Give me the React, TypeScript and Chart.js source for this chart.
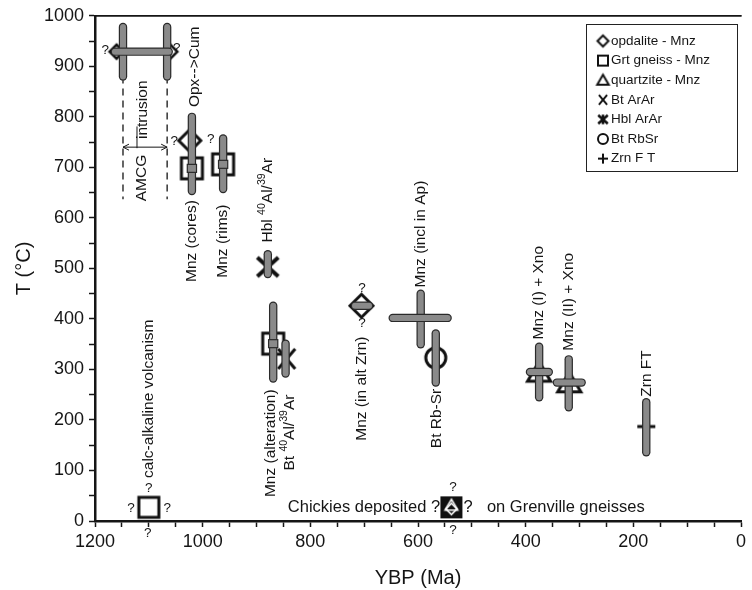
import React, { useEffect, useRef } from "react";
import { Chart, registerables } from "chart.js";

Chart.register(...registerables);

const FONT = "'Liberation Sans', Arial, Helvetica, sans-serif";

// ---------- axes ----------
const xRange = [0, 1200];
const xTickLabels = [1200, 1000, 800, 600, 400, 200, 0];
const yRange = [0, 1000];
const yTickLabels = [0, 100, 200, 300, 400, 500, 600, 700, 800, 900, 1000];
const minorStep = 50;
const xTitle = "YBP (Ma)";
const yTitle = "T (°C)";

// ---------- marker series (age Ma, temperature °C) ----------
const seriesNames = [
  "opdalite - Mnz",
  "Grt gneiss - Mnz",
  "quartzite - Mnz",
  "Bt ArAr",
  "Hbl ArAr",
  "Bt RbSr",
  "Zrn F T",
];
const opdaliteAge = [1160, 1060, 1024, 705, 538];
const opdaliteT = [929, 929, 753, 426, 24];
const grtGneissAge = [1020, 962, 869, 1100, 538];
const grtGneissT = [698, 706, 351, 27, 27];
const quartziteAge = [375, 319, 538];
const quartziteT = [294, 273, 31];
const btArArAge = [844];
const btArArT = [321];
const hblArArAge = [879];
const hblArArT = [503];
const btRbSrAge = [567];
const btRbSrT = [323];
const zrnFTAge = [176];
const zrnFTT = [187];

// ---------- temperature ranges (vertical grey bars) ----------
const tBarAge = [1148, 1066, 1020, 962, 879, 869, 846, 595, 567, 375, 320, 176];
const tBarMin = [880, 880, 653, 657, 489, 282, 292, 350, 274, 245, 225, 136];
const tBarMax = [978, 978, 800, 757, 528, 426, 351, 450, 371, 345, 320, 235];

// ---------- age ranges (horizontal grey bars) ----------
const ageBarT = [929, 402, 426, 295, 274, 698, 706, 351];
const ageBarMin = [1063, 545, 691, 357, 296, 1017, 959, 866];
const ageBarMax = [1163, 647, 717, 392, 342, 1023, 965, 872];

// ---------- AMCG intrusion guides ----------
const amcgAges = [1148, 1066];
const amcgGuideT = [637, 880];
const amcgArrowT = 740;
const amcgTickAge = 1122;
const amcgTickT = [738, 781];

// ---------- annotations ----------
const rotText = [
  "intrusion",
  "AMCG",
  "Opx-->Cum",
  "Mnz (cores)",
  "Mnz (rims)",
  "Hbl ^40Al/^39Ar",
  "Mnz (alteration)",
  "Bt ^40Al/^39Ar",
  "Mnz (in alt Zrn)",
  "Mnz (incl in Ap)",
  "Bt Rb-Sr",
  "Mnz (I) + Xno",
  "Mnz (II) + Xno",
  "Zrn FT",
  "calc-alkaline volcanism",
];
const rotAge = [1111, 1113, 1014, 1020, 962, 879, 873, 838, 704, 595, 565, 375, 320, 176, 1100];
const rotT = [814, 679, 899, 554, 554, 635, 154, 175, 262, 568, 203, 452, 434, 292, 242];

const noteText = ["Chickies deposited ?", "?", "on Grenville gneisses"];
const noteAge = [559, 507, 472];
const noteT = [26, 26, 26];

const qAge = [1181, 1048, 1053, 985, 704, 704, 1133, 1066, 1100, 1102, 535, 535];
const qT = [931, 935, 751, 755, 461, 392, 26, 26, 65, -24, 67, -18];

// ---------- marker drawing ----------
function makeMarker(kind: string, r: number, lw: number, fill: string | null, stroke: string): HTMLCanvasElement {
  const pad = Math.ceil(lw) + 2;
  const s = Math.ceil(2 * r + 2 * pad);
  const c = document.createElement("canvas");
  c.width = s;
  c.height = s;
  const g = c.getContext("2d")!;
  const m = s / 2;
  g.lineWidth = lw;
  g.strokeStyle = stroke;
  g.lineJoin = "miter";
  g.lineCap = "butt";
  g.beginPath();
  let closed = true;
  if (kind === "square") {
    g.rect(m - r, m - r, 2 * r, 2 * r);
  } else if (kind === "diamond") {
    g.moveTo(m, m - r);
    g.lineTo(m + r, m);
    g.lineTo(m, m + r);
    g.lineTo(m - r, m);
    g.closePath();
  } else if (kind === "triangle") {
    g.moveTo(m, m - r);
    g.lineTo(m + r * 1.05, m + r * 0.8);
    g.lineTo(m - r * 1.05, m + r * 0.8);
    g.closePath();
  } else if (kind === "circle") {
    g.arc(m, m, r, 0, Math.PI * 2);
  } else if (kind === "x") {
    closed = false;
    g.moveTo(m - r * 0.85, m - r);
    g.lineTo(m + r * 0.85, m + r);
    g.moveTo(m + r * 0.85, m - r);
    g.lineTo(m - r * 0.85, m + r);
  } else if (kind === "star") {
    closed = false;
    g.moveTo(m - r, m - r * 0.9);
    g.lineTo(m + r, m + r * 0.9);
    g.moveTo(m + r, m - r * 0.9);
    g.lineTo(m - r, m + r * 0.9);
    g.moveTo(m, m - r);
    g.lineTo(m, m + r);
  } else if (kind === "plus") {
    closed = false;
    g.moveTo(m - r, m);
    g.lineTo(m + r, m);
    g.moveTo(m, m - r);
    g.lineTo(m, m + r);
  }
  if (closed && fill) {
    g.fillStyle = fill;
    g.fill();
  }
  g.stroke();
  return c;
}

const INK = "#151515";

function drawRich(ctx: CanvasRenderingContext2D, text: string, x: number, y: number, size: number, align: string) {
  const parts = text.split(/(\^\d+)/).filter((p) => p.length > 0);
  const segs = parts.map((p) => (p.startsWith("^") ? { t: p.slice(1), sup: true } : { t: p, sup: false }));
  let w = 0;
  const widths: number[] = [];
  for (const s of segs) {
    ctx.font = `${s.sup ? size * 0.68 : size}px ${FONT}`;
    const sw = ctx.measureText(s.t).width;
    widths.push(sw);
    w += sw;
  }
  let cx = align === "center" ? x - w / 2 : align === "right" ? x - w : x;
  ctx.textAlign = "left";
  ctx.textBaseline = "middle";
  segs.forEach((s, i) => {
    ctx.font = `${s.sup ? size * 0.68 : size}px ${FONT}`;
    ctx.fillText(s.t, cx, s.sup ? y - size * 0.36 : y);
    cx += widths[i];
  });
}

function greyBar(ctx: CanvasRenderingContext2D, x1: number, y1: number, x2: number, y2: number) {
  const len = Math.hypot(x2 - x1, y2 - y1);
  if (len < 10) {
    const cx = (x1 + x2) / 2;
    const cy = (y1 + y2) / 2;
    const w = len + 6;
    ctx.fillStyle = "#8a8a8a";
    ctx.fillRect(cx - w / 2, cy - 4, w, 8);
    ctx.lineWidth = 1.2;
    ctx.strokeStyle = "#2a2a2a";
    ctx.strokeRect(cx - w / 2, cy - 4, w, 8);
    return;
  }
  ctx.lineCap = "round";
  ctx.beginPath();
  ctx.moveTo(x1, y1);
  ctx.lineTo(x2, y2);
  ctx.strokeStyle = "#2a2a2a";
  ctx.lineWidth = 8.4;
  ctx.stroke();
  ctx.beginPath();
  ctx.moveTo(x1, y1);
  ctx.lineTo(x2, y2);
  ctx.strokeStyle = "#8a8a8a";
  ctx.lineWidth = 6;
  ctx.stroke();
}

const overlay = {
  id: "overlay",
  beforeDatasetsDraw(chart: any) {
    const ctx: CanvasRenderingContext2D = chart.ctx;
    const xs = chart.scales.x;
    const ys = chart.scales.y;
    ctx.save();
    // dashed guides
    ctx.setLineDash([7, 5]);
    ctx.lineWidth = 1.3;
    ctx.strokeStyle = INK;
    for (const a of amcgAges) {
      const x = xs.getPixelForValue(a);
      ctx.beginPath();
      ctx.moveTo(x, ys.getPixelForValue(amcgGuideT[1]));
      ctx.lineTo(x, ys.getPixelForValue(amcgGuideT[0]));
      ctx.stroke();
    }
    ctx.setLineDash([]);
    // double arrow
    const xa = xs.getPixelForValue(amcgAges[0]);
    const xb = xs.getPixelForValue(amcgAges[1]);
    const ya = ys.getPixelForValue(amcgArrowT);
    ctx.lineWidth = 1;
    ctx.beginPath();
    ctx.moveTo(xa, ya);
    ctx.lineTo(xb, ya);
    ctx.moveTo(xa + 6, ya - 3);
    ctx.lineTo(xa, ya);
    ctx.lineTo(xa + 6, ya + 3);
    ctx.moveTo(xb - 6, ya - 3);
    ctx.lineTo(xb, ya);
    ctx.lineTo(xb - 6, ya + 3);
    ctx.stroke();
    // small separator tick
    const xt = xs.getPixelForValue(amcgTickAge);
    ctx.beginPath();
    ctx.moveTo(xt, ys.getPixelForValue(amcgTickT[0]));
    ctx.lineTo(xt, ys.getPixelForValue(amcgTickT[1]));
    ctx.stroke();
    ctx.restore();
  },
  afterDatasetsDraw(chart: any) {
    const ctx: CanvasRenderingContext2D = chart.ctx;
    const xs = chart.scales.x;
    const ys = chart.scales.y;
    const area = chart.chartArea;
    ctx.save();
    // vertical bars
    tBarAge.forEach((a, i) => {
      const x = xs.getPixelForValue(a);
      greyBar(ctx, x, ys.getPixelForValue(tBarMax[i]), x, ys.getPixelForValue(tBarMin[i]));
    });
    // horizontal bars
    ageBarT.forEach((t, i) => {
      const y = ys.getPixelForValue(t);
      greyBar(ctx, xs.getPixelForValue(ageBarMax[i]), y, xs.getPixelForValue(ageBarMin[i]), y);
    });
    // rotated labels
    ctx.fillStyle = INK;
    rotText.forEach((t, i) => {
      ctx.save();
      ctx.translate(xs.getPixelForValue(rotAge[i]), ys.getPixelForValue(rotT[i]));
      ctx.rotate(-Math.PI / 2);
      drawRich(ctx, t, 0, 0, 15.5, "center");
      ctx.restore();
    });
    // horizontal notes
    const aligns = ["right", "center", "left"];
    noteText.forEach((t, i) => {
      drawRich(ctx, t, xs.getPixelForValue(noteAge[i]), ys.getPixelForValue(noteT[i]), 16.5, aligns[i] || "left");
    });
    // question marks
    qAge.forEach((a, i) => {
      drawRich(ctx, "?", xs.getPixelForValue(a), ys.getPixelForValue(qT[i]), 13.5, "center");
    });
    // top frame line
    ctx.strokeStyle = INK;
    ctx.lineWidth = 1.8;
    ctx.beginPath();
    ctx.moveTo(area.left, area.top);
    ctx.lineTo(area.right, area.top);
    ctx.stroke();
    // legend
    const lx = 586, ly = 24, lw = 151, lh = 147;
    ctx.fillStyle = "#ffffff";
    ctx.fillRect(lx, ly, lw, lh);
    ctx.lineWidth = 1;
    ctx.strokeStyle = "#222";
    ctx.strokeRect(lx + 0.5, ly + 0.5, lw, lh);
    chart.data.datasets.forEach((ds: any, i: number) => {
      const y = 41 + i * 19.6;
      const img: HTMLCanvasElement = ds.legendMarker;
      ctx.drawImage(img, 603 - img.width / 2, y - img.height / 2);
      ctx.fillStyle = INK;
      drawRich(ctx, ds.label, 611, y, 13.5, "left");
    });
    // axis titles
    ctx.fillStyle = INK;
    drawRich(ctx, xTitle, (area.left + area.right) / 2, 578, 20, "center");
    ctx.save();
    ctx.translate(24, (area.top + area.bottom) / 2);
    ctx.rotate(-Math.PI / 2);
    drawRich(ctx, yTitle, 0, 0, 20, "center");
    ctx.restore();
    ctx.restore();
  },
};

function pts(ages: number[], temps: number[]) {
  return ages.map((a, i) => ({ x: a, y: temps[i] }));
}

export default function App() {
  const ref = useRef<HTMLCanvasElement | null>(null);
  useEffect(() => {
    document.body.style.margin = "0";
    const canvas = ref.current!;
    const W = "#ffffff";
    const K = "#111111";
    const diamondStyles = [
      makeMarker("diamond", 7, 2.5, W, K),
      makeMarker("diamond", 7, 2.5, W, K),
      makeMarker("diamond", 11, 3, W, K),
      makeMarker("diamond", 11.5, 3, W, K),
      makeMarker("diamond", 5.5, 1.6, null, W),
    ];
    const squareStyles = [
      makeMarker("square", 10.5, 3, W, K),
      makeMarker("square", 10.5, 3, W, K),
      makeMarker("square", 10.5, 3, W, K),
      makeMarker("square", 10, 3, W, K),
      makeMarker("square", 10, 2, K, K),
    ];
    const triStyles = [
      makeMarker("triangle", 11, 3, W, K),
      makeMarker("triangle", 11, 3, W, K),
      makeMarker("triangle", 6, 1.6, null, W),
    ];
    const xStyle = makeMarker("x", 10, 3, null, K);
    const starStyle = makeMarker("star", 10.5, 4, null, K);
    const circleStyle = makeMarker("circle", 10, 3, W, K);
    const plusStyle = makeMarker("plus", 9, 3, null, K);

    const legendMarkers = [
      makeMarker("diamond", 5.5, 2, W, K),
      makeMarker("square", 5, 2, W, K),
      makeMarker("triangle", 5.5, 2, W, K),
      makeMarker("x", 4.8, 2, null, K),
      makeMarker("star", 4.8, 2.6, null, K),
      makeMarker("circle", 5, 2, W, K),
      makeMarker("plus", 5, 2, null, K),
    ];

    const styleSets: any[] = [
      diamondStyles,
      squareStyles,
      triStyles,
      [xStyle],
      [starStyle],
      [circleStyle],
      [plusStyle],
    ];
    const orders = [1, 3, 2, 0, 0, 0, 0];
    const dataSets = [
      pts(opdaliteAge, opdaliteT),
      pts(grtGneissAge, grtGneissT),
      pts(quartziteAge, quartziteT),
      pts(btArArAge, btArArT),
      pts(hblArArAge, hblArArT),
      pts(btRbSrAge, btRbSrT),
      pts(zrnFTAge, zrnFTT),
    ];

    const datasets: any[] = seriesNames.map((name, i) => ({
      label: name,
      data: dataSets[i],
      order: orders[i],
      pointRadius: 10,
      pointHoverRadius: 10,
      pointStyle: (c: any) => styleSets[i][c.dataIndex] || styleSets[i][0],
      legendMarker: legendMarkers[i],
    }));

    const tickFont = { family: FONT, size: 18 };
    const chart = new Chart(canvas, {
      type: "scatter",
      data: { datasets },
      options: {
        animation: false,
        responsive: false,
        events: [],
        layout: { padding: { top: 14, right: 11, left: 0, bottom: 0 } },
        plugins: { legend: { display: false }, tooltip: { enabled: false } },
        scales: {
          x: {
            type: "linear",
            min: xRange[0],
            max: xRange[1],
            reverse: true,
            afterFit: (s: any) => {
              s.height = 69;
            },
            ticks: {
              stepSize: minorStep,
              autoSkip: false,
              maxRotation: 0,
              minRotation: 0,
              padding: 4,
              color: INK,
              font: tickFont,
              callback: (v: any) => (xTickLabels.includes(Number(v)) ? String(v) : ""),
            },
            grid: {
              display: true,
              drawOnChartArea: false,
              drawTicks: true,
              tickLength: 6,
              tickColor: INK,
              tickWidth: 1.5,
            },
            border: { display: true, color: INK, width: 2.5 },
          },
          y: {
            type: "linear",
            min: yRange[0],
            max: yRange[1],
            afterFit: (s: any) => {
              s.width = 95;
            },
            ticks: {
              stepSize: minorStep,
              autoSkip: false,
              padding: 5,
              color: INK,
              font: tickFont,
              callback: (v: any) => (yTickLabels.includes(Number(v)) ? String(v) : ""),
            },
            grid: {
              display: true,
              drawOnChartArea: false,
              drawTicks: true,
              tickLength: 6,
              tickColor: INK,
              tickWidth: 1.5,
            },
            border: { display: true, color: INK, width: 2.5 },
          },
        },
      } as any,
      plugins: [overlay as any],
    });
    return () => chart.destroy();
  }, []);
  return (
    <div style={{ position: "absolute", left: 0, top: 0, width: 752, height: 590 }}>
      <canvas ref={ref} width={752} height={590} style={{ display: "block" }} />
    </div>
  );
}
